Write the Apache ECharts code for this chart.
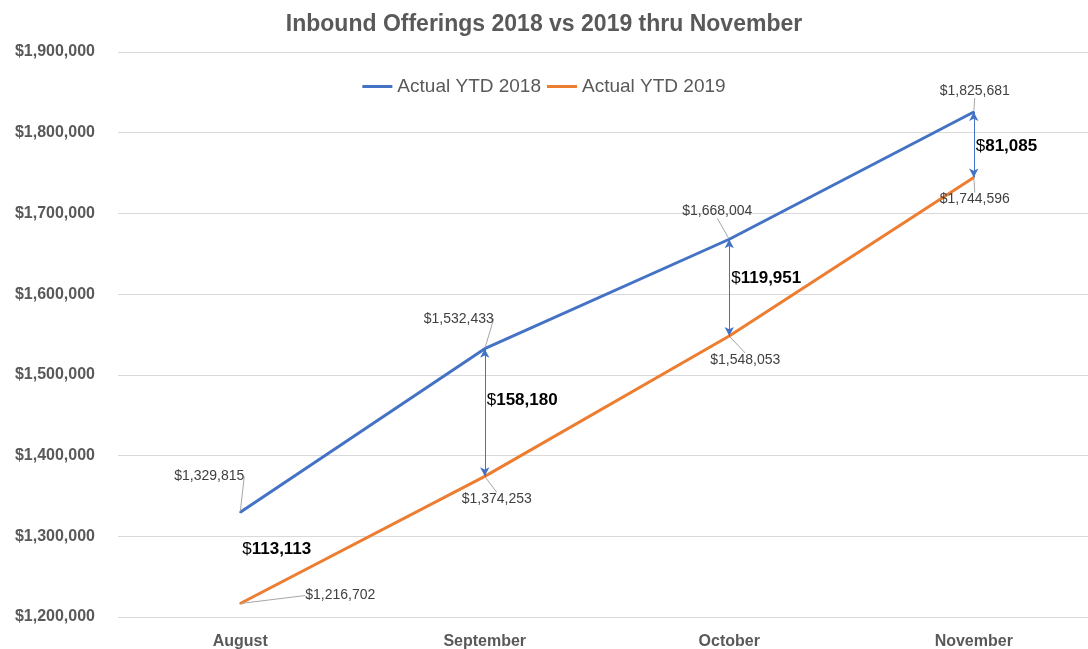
<!DOCTYPE html>
<html>
<head>
<meta charset="utf-8">
<script src="https://cdn.jsdelivr.net/npm/echarts@6/dist/echarts.min.js"></script>
<style>
  html, body { margin: 0; padding: 0; background: #fff; }
  #chart { width: 1088px; height: 649px; }
</style>
</head>
<body>
<div id="chart"></div>
<script>
const months = ['August', 'September', 'October', 'November'];
const ytd2018 = [1329815, 1532433, 1668004, 1825681];
const ytd2019 = [1216702, 1374253, 1548053, 1744596];
const yTicks = { min: 1200000, max: 1900000, step: 100000 };

const FONT = '"Liberation Sans", Arial, sans-serif';
const BLUE = '#4472C4';
const ORANGE = '#ED7D31';

function money(v) {
  return '$' + v.toLocaleString('en-US');
}

// label nudges (px) so labels sit like the excel original
const blueShift = [[-31, -36], [-26, -30], [-12, -28], [1, -21]];
const orangeShift = [[100, -8], [12, 23], [16, 24], [1, 22]];
const gapShift = [-9, -12, -9, 2];

const gaps = ytd2018.map((v, i) => v - ytd2019[i]);

const arrows = [];
for (let i = 1; i < months.length; i++) {
  arrows.push([
    { coord: [months[i], ytd2018[i]] },
    { coord: [months[i], ytd2019[i]] }
  ]);
}

const gapLabels = gaps.map((g, i) => ({
  coord: [months[i], (ytd2018[i] + ytd2019[i]) / 2],
  value: g,
  label: { offset: [2, gapShift[i]] }
}));

const chart = echarts.init(document.getElementById('chart'));

function series(name, data, color, shift, z) {
  return {
    name: name,
    type: 'line',
    data: data,
    z: z,
    symbol: 'circle',
    symbolSize: 2,
    itemStyle: { color: color },
    lineStyle: { color: color, width: 3 },
    label: {
      show: true,
      position: 'inside',
      formatter: p => money(p.value),
      fontFamily: FONT,
      fontSize: 14,
      color: '#404040'
    },
    labelLine: { show: true, lineStyle: { color: '#a6a6a6', width: 1 } },
    labelLayout: p => ({ dx: shift[p.dataIndex][0], dy: shift[p.dataIndex][1] }),
    animation: false
  };
}

const s2018 = series('Actual YTD 2018', ytd2018, BLUE, blueShift, 3);
s2018.markLine = {
  silent: true,
  symbol: ['arrow', 'arrow'],
  symbolSize: [7, 9],
  lineStyle: { color: BLUE, width: 1, type: 'solid' },
  label: { show: false },
  data: arrows
};

const s2019 = series('Actual YTD 2019', ytd2019, ORANGE, orangeShift, 2);
s2019.markPoint = {
  silent: true,
  symbol: 'circle',
  symbolSize: 0,
  label: {
    show: true,
    position: 'right',
    distance: 0,
    formatter: p => '{a|$}{b|' + p.value.toLocaleString('en-US') + '}',
    rich: {
      a: { fontFamily: FONT, fontSize: 17, color: '#000' },
      b: { fontFamily: FONT, fontSize: 17, fontWeight: 'bold', color: '#000' }
    }
  },
  data: gapLabels
};

chart.setOption({
  animation: false,
  title: {
    text: 'Inbound Offerings 2018 vs 2019 thru November',
    left: 'center',
    top: 8,
    textStyle: { fontFamily: FONT, fontSize: 23, fontWeight: 'bold', color: '#595959' }
  },
  legend: {
    top: 72,
    left: 'center',
    icon: 'rect',
    itemWidth: 30,
    itemHeight: 3,
    itemGap: 6,
    textStyle: { fontFamily: FONT, fontSize: 19, color: '#595959' },
    data: ['Actual YTD 2018', 'Actual YTD 2019']
  },
  grid: { left: 118, width: 978, top: 52, bottom: 32, outerBoundsMode: 'none' },
  xAxis: {
    type: 'category',
    data: months,
    boundaryGap: true,
    axisLine: { show: false },
    axisTick: { show: false },
    axisLabel: { margin: 17, fontFamily: FONT, fontSize: 16, fontWeight: 'bold', color: '#595959' }
  },
  yAxis: {
    type: 'value',
    min: yTicks.min,
    max: yTicks.max,
    interval: yTicks.step,
    axisLine: { show: false },
    axisTick: { show: false },
    splitLine: { lineStyle: { color: '#d9d9d9', width: 1 } },
    axisLabel: { margin: 23, fontFamily: FONT, fontSize: 16, fontWeight: 'bold', color: '#595959', formatter: money }
  },
  series: [s2018, s2019]
});
</script>
</body>
</html>
